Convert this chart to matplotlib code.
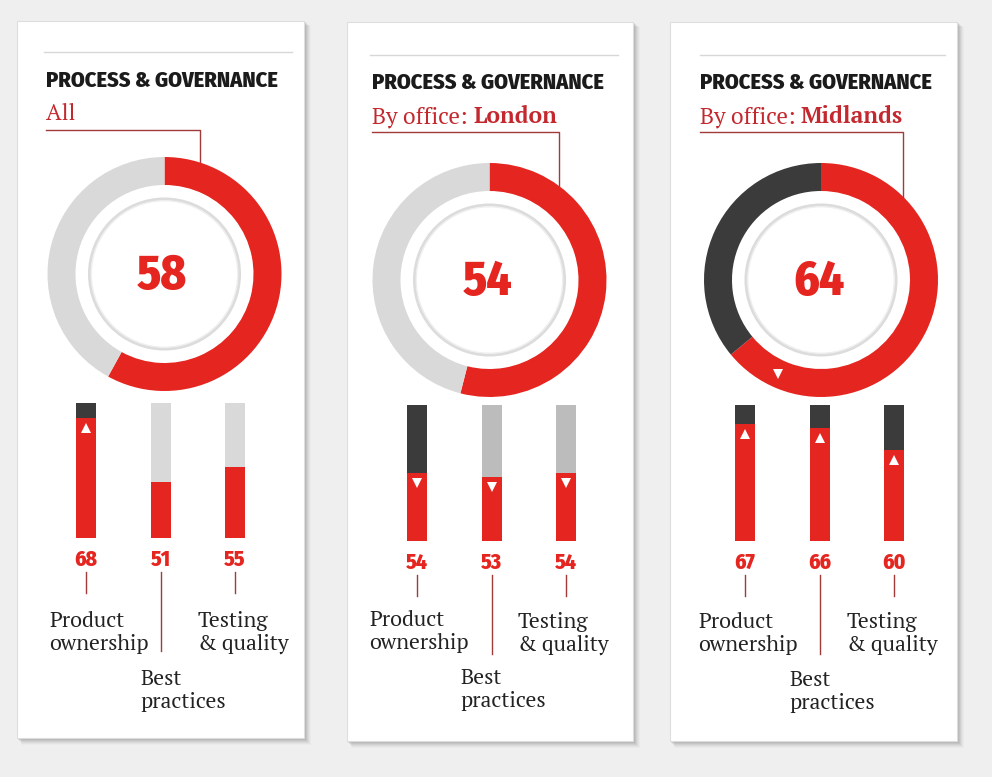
import numpy as np
import matplotlib
matplotlib.use('Agg')
import matplotlib.pyplot as plt
from matplotlib import font_manager
from matplotlib.patches import Rectangle, Circle
from matplotlib.transforms import offset_copy

# --- data -------------------------------------------------------------
panel_titles = ['PROCESS & GOVERNANCE'] * 3
panel_subtitles = [('All', ''), ('By office: ', 'London'), ('By office: ', 'Midlands')]
overall_scores = [58, 54, 64]
categories = [('Product', 'ownership'), ('Best', 'practices'), ('Testing', '& quality')]
category_scores = [
    [68, 51, 55],   # All
    [54, 53, 54],   # London
    [67, 66, 60],   # Midlands
]
# change markers vs. the reference score (None = no marker)
bar_trends = [
    ['up', None, None],
    ['down', 'down', 'down'],
    ['up', 'up', 'up'],
]
ring_trends = [None, None, 'down']
BAR_SCALE = (36, 72)

# --- style ------------------------------------------------------------
W, H = 992, 777
BG = '#efefef'
RED = '#e5251f'
DARK = '#3b3b3b'
LIGHT = '#d9d9d9'
MID = '#bcbcbc'
SUB_RED = '#c3282e'
LINE_RED = '#a33a3a'
ring_rest = [LIGHT, LIGHT, DARK]
bar_rest = [[DARK, LIGHT, LIGHT], [DARK, MID, MID], [DARK, DARK, DARK]]

installed = {f.name for f in font_manager.fontManager.ttflist}


def pick(cands):
    for c in cands:
        if c in installed:
            return c
    return cands[-1]


COND = pick(['Fira Sans Condensed', 'Roboto Condensed', 'Asap Condensed',
             'Archivo Narrow', 'DejaVu Sans'])
SERIF = pick(['PT Serif', 'Noticia Text', 'Tinos', 'DejaVu Serif'])

# layout per panel (pixels, origin top-left)
cards = [(17, 21, 287, 717), (347, 22, 286, 719), (670, 22, 287, 719)]
rules = [(44, 292, 52), (370, 618, 55), (700, 945, 55)]
title_pos = [(46, 87), (372, 89), (700, 89)]
sub_pos = [(46, 120), (372, 123), (700, 123)]
callout = [(46, 200, 130), (372, 559, 132), (700, 903, 132)]
ring_c = [(164.5, 274), (489.5, 280), (821, 280)]
R_OUT, R_W, R_IN2 = 117, 28, 75
bar_first = [86, 417, 745]
bar_top_bot = [(403, 538), (405, 541), (405, 541)]
BAR_GAP = 74.5
label_x = [(49, 140, 198), (369, 460, 518), (698, 789, 847)]
label_y = [(627, 685, 627), (626, 684, 628), (628, 686, 628)]
LINE_H = 23

fig = plt.figure(figsize=(W / 100, H / 100), dpi=100)
fig.patch.set_facecolor(BG)
ax0 = fig.add_axes([0, 0, 1, 1])
ax0.set_xlim(0, W)
ax0.set_ylim(H, 0)
ax0.axis('off')


def px_axes(x0, y0, w, h):
    a = fig.add_axes([x0 / W, 1 - (y0 + h) / H, w / W, h / H])
    a.patch.set_alpha(0)
    return a


for p in range(3):
    x, y, w, h = cards[p]
    # soft shadow on the right and bottom
    for k, a in zip(range(7, 0, -1), [0.04, 0.06, 0.08, 0.1, 0.13, 0.16, 0.2]):
        ax0.add_patch(Rectangle((x + k * 0.7, y + k * 0.7), w + k * 0.3, h + k * 0.3,
                                facecolor='#7a7a7a', edgecolor='none', alpha=a))
    ax0.add_patch(Rectangle((x, y), w, h, facecolor='white', edgecolor='#dedede', lw=0.8))

    x1, x2, yr = rules[p]
    ax0.plot([x1, x2], [yr, yr], color='#d7d7d7', lw=1)

    tx, ty = title_pos[p]
    ax0.text(tx, ty, panel_titles[p], family=COND, weight=800, fontsize=16,
             color='#1b1b1b', va='baseline', ha='left')

    sx, sy = sub_pos[p]
    reg, bold = panel_subtitles[p]
    t = ax0.text(sx, sy, reg, family=SERIF, fontsize=16.5, color=SUB_RED,
                 va='baseline', ha='left')
    if bold:
        fig.canvas.draw()
        bb = t.get_window_extent()
        ax0.annotate(bold, xy=(bb.x1, 0), xycoords=('figure pixels', 'figure pixels'),
                     xytext=(bb.x1, H - sy), textcoords='figure pixels',
                     family=SERIF, weight='bold', fontsize=16.5, color=SUB_RED,
                     va='baseline', ha='left')

    # callout line down to the ring
    cx, cy = ring_c[p]
    lx0, lx1, ly = callout[p]
    y_edge = cy - np.sqrt(R_OUT ** 2 - (lx1 - cx) ** 2)
    ax0.plot([lx0, lx1, lx1], [ly, ly, y_edge], color=LINE_RED, lw=1)

    # ring
    ar = px_axes(cx - R_OUT, cy - R_OUT, 2 * R_OUT, 2 * R_OUT)
    v = overall_scores[p]
    ar.pie([v, 100 - v], startangle=90, counterclock=False, radius=1,
           colors=[RED, ring_rest[p]], wedgeprops=dict(width=R_W / R_OUT, lw=0))
    ar.add_patch(Circle((0, 0), R_IN2 / R_OUT, facecolor='none', edgecolor='#dcdcdc', lw=2.2))
    ar.add_patch(Circle((0, 0), R_IN2 / R_OUT - 0.015, facecolor='none', edgecolor='#efefef', lw=1))
    ar.set_xlim(-1, 1)
    ar.set_ylim(-1, 1)
    ar.set_aspect('equal')
    ar.axis('off')
    ar.text(-0.02, -0.02, str(v), family=COND, weight=800, fontsize=35,
            color=RED, ha='center', va='center')
    if ring_trends[p]:
        ang = np.deg2rad(90 - (v / 100 * 360 - 26))
        rm = 1 - R_W / R_OUT / 2
        ar.plot(rm * np.cos(ang), rm * np.sin(ang), marker='v' if ring_trends[p] == 'down' else '^',
                color='white', ms=7, mew=0)

    # bars
    btop, bbot = bar_top_bot[p]
    ab = px_axes(bar_first[p] - BAR_GAP / 2, btop, 3 * BAR_GAP, bbot - btop)
    idx = np.arange(3)
    vals = category_scores[p]
    bw = 20 / BAR_GAP
    ab.bar(idx, BAR_SCALE[1] - BAR_SCALE[0], bottom=BAR_SCALE[0], width=bw,
           color=bar_rest[p], lw=0)
    ab.bar(idx, np.array(vals) - BAR_SCALE[0], bottom=BAR_SCALE[0], width=bw, color=RED, lw=0)
    ab.set_xlim(-0.5, 2.5)
    ab.set_ylim(*BAR_SCALE)
    ab.axis('off')
    tr = offset_copy(ab.transData, fig=fig, y=-10, units='dots')
    for i, (val, trend) in enumerate(zip(vals, bar_trends[p])):
        ab.annotate(str(val), xy=(i, BAR_SCALE[0]), xytext=(0, -22), textcoords='offset pixels',
                    ha='center', va='center', family=COND, weight=800, fontsize=15.5,
                    color=RED, annotation_clip=False)
        if trend:
            ab.plot(i, val, marker='^' if trend == 'up' else 'v', color='white', ms=7,
                    mew=0, transform=tr, clip_on=False)

    # leader lines and category labels
    for i in range(3):
        bx = bar_first[p] + i * BAR_GAP
        y_end = bbot + (55 if i != 1 else 113)
        ax0.plot([bx, bx], [bbot + 34, y_end], color=LINE_RED, lw=1)
        for j, line in enumerate(categories[i]):
            ax0.text(label_x[p][i], label_y[p][i] + j * LINE_H, line, family=SERIF,
                     fontsize=15.5, color='#222222', va='baseline', ha='left')

fig.savefig('out.png', dpi=100, facecolor=BG)
